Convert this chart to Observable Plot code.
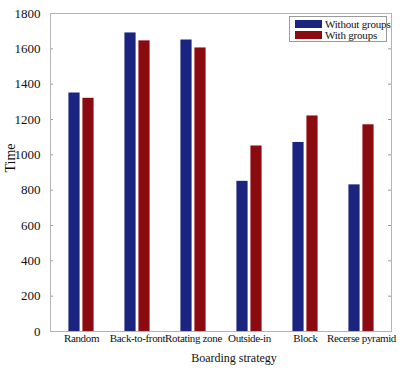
<!DOCTYPE html>
<html><head><meta charset="utf-8">
<script src="https://cdn.jsdelivr.net/npm/d3@7"></script>
<script src="https://cdn.jsdelivr.net/npm/@observablehq/plot@0.6"></script>
<style>
html,body{margin:0;padding:0;background:#fff;font-family:"Liberation Serif",serif}
#wrap{position:relative;width:416px;height:374px}
#wrap svg, #wrap svg text{font-family:"Liberation Serif",serif !important}
.legend{position:absolute;left:289px;top:16px;width:98px;height:26px;border:1px solid #9a9a9a;background:#fff;box-sizing:border-box;font-size:11px;color:#111;font-family:"Liberation Serif",serif}
.legend .row{position:absolute;left:5px;height:10px;display:flex;align-items:center}
.legend .sw{width:27px;height:8px;margin-right:3px}
.legend .lb{line-height:10px;white-space:nowrap;letter-spacing:-0.2px}
</style>
</head><body>
<div id="wrap"></div>
<script>
const categories = ["Random","Back-to-front","Rotating zone","Outside-in","Block","Recerse pyramid"];
const seriesNames = ["Without groups","With groups"];
const withoutGroups = [1350,1690,1650,850,1070,830];
const withGroups = [1320,1645,1605,1050,1220,1170];
const yTicks = [0,200,400,600,800,1000,1200,1400,1600,1800];
const colors = ["#1b2580","#8b0b10"];

const rowsA = categories.map((c,i)=>({cat:c, series:seriesNames[0], v:withoutGroups[i]}));
const rowsB = categories.map((c,i)=>({cat:c, series:seriesNames[1], v:withGroups[i]}));

const W=416,H=374,mL=50,mR=25,mT=13,mB=43;
const pw=W-mL-mR;
const band=pw/categories.length, barW=12, off=7;
const inset=(band-barW)/2;

const chart = Plot.plot({
  width:W,height:H,marginLeft:mL,marginRight:mR,marginTop:mT,marginBottom:mB,
  style:{fontFamily:"'Liberation Serif', serif",fontSize:"12px",color:"#111",background:"#fff"},
  x:{domain:categories,padding:0,label:null},
  y:{domain:[0,1800],label:null},
  marks:[
    Plot.barY(rowsA,{x:"cat",y:"v",fill:colors[0],insetLeft:inset,insetRight:inset,dx:-off}),
    Plot.barY(rowsB,{x:"cat",y:"v",fill:colors[1],insetLeft:inset,insetRight:inset,dx:off}),
    Plot.gridY(yTicks,{stroke:"#9a9a9a",strokeOpacity:1,insetRight:pw-3}),
    Plot.gridY(yTicks,{stroke:"#9a9a9a",strokeOpacity:1,insetLeft:pw-3}),
    Plot.frame({stroke:"#b4b4b4"}),
    Plot.axisY(yTicks,{tickSize:0,tickPadding:10,label:null,fontSize:13,tickFormat:"d"}),
    Plot.axisX({tickSize:0,tickPadding:3,label:null,fontSize:11}),
    Plot.text(["Time"],{frameAnchor:"left",dx:-40,rotate:-90,fontSize:14}),
    Plot.text(["Boarding strategy"],{frameAnchor:"bottom",dx:13,dy:30,fontSize:12})
  ]
});
const wrap=document.getElementById("wrap");
wrap.appendChild(chart);
chart.querySelectorAll('[aria-label="x-axis tick label"] text').forEach(t=>t.setAttribute("letter-spacing","-0.35"));

const lg=document.createElement("div");
lg.className="legend";
seriesNames.forEach((n,i)=>{
  const r=document.createElement("div");
  r.className="row";
  r.style.top=(2+i*11)+"px";
  r.innerHTML=`<div class="sw" style="background:${colors[i]}"></div><div class="lb">${n}</div>`;
  lg.appendChild(r);
});
wrap.appendChild(lg);
</script>
</body></html>
